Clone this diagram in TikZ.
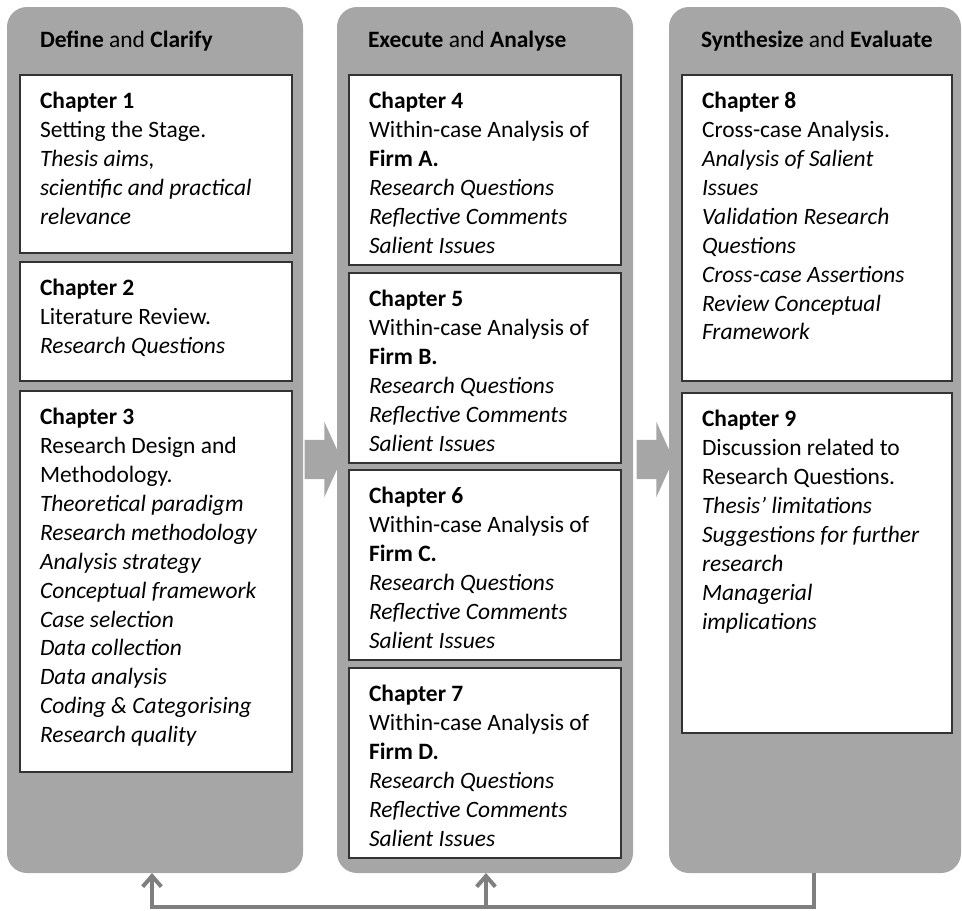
\documentclass[tikz,border=0pt]{standalone}
\usepackage{fontspec}
\setmainfont{Carlito}
\usetikzlibrary{calc,arrows.meta,shapes.arrows}
\definecolor{colgrey}{HTML}{A6A6A6}
\definecolor{fbgrey}{HTML}{7F7F7F}

\begin{document}
\begin{tikzpicture}[x=0.75pt,y=-0.75pt,
  every node/.style={inner sep=0pt,outer sep=0pt},
  txt/.style={font=\fontsize{17.6pt}{21.7pt}\selectfont},
  column/.style={fill=colgrey,rounded corners=15pt,anchor=north west,minimum width=222pt,minimum height=649.5pt},
  box/.style={draw=black!80,line width=1.1pt,fill=white,anchor=north west,minimum width=204pt},
  chap/.style={txt,align=left,anchor=north west},
  flow/.style={single arrow,fill=colgrey,inner ysep=14.6pt,minimum height=27.75pt,
    single arrow head extend=13.5pt,single arrow tip angle=131},
  feedback/.style={draw=fbgrey,line width=3pt}]
  \useasboundingbox (0,0) rectangle (962,910);
  % columns
  \node[column] (c1) at (7,7) {};
  \node[column] (c2) at (337,7) {};
  \node[column,minimum width=219pt] (c3) at (669,7) {};
  \node[flow] (a1) at (318.5,459.5) {};
  \node[flow] (a2) at (650.5,459.5) {};
  \node[txt,anchor=base west] (h1) at (40,47) {\textbf{Define} and \textbf{Clarify}};
  \node[txt,anchor=base west] (h2) at (368,47) {\textbf{Execute} and \textbf{Analyse}};
  \node[txt,anchor=base west] (h3) at (701,47) {\textbf{Synthesize} and \textbf{Evaluate}};
  % define and clarify
  \node[box,minimum height=133.5pt] (b1) at (20,75) {};
  \node[box,minimum height=89.25pt] (b2) at (20,262) {};
  \node[box,minimum height=285.75pt] (b3) at (20,391) {};
  \node[chap] (t1) at ($(b1.north west)+(20,17)$) {\textbf{Chapter 1}\\Setting the Stage.\\\textit{Thesis aims,}\\\textit{scientific and practical}\\\textit{relevance}};
  \node[chap] (t2) at ($(b2.north west)+(20,17)$) {\textbf{Chapter 2}\\Literature Review.\\\textit{Research Questions}};
  \node[chap] (t3) at ($(b3.north west)+(20,17)$) {\textbf{Chapter 3}\\Research Design and\\Methodology.\\\textit{Theoretical paradigm}\\\textit{Research methodology}\\\textit{Analysis strategy}\\\textit{Conceptual framework}\\\textit{Case selection}\\\textit{Data collection}\\\textit{Data analysis}\\\textit{Coding \& Categorising}\\\textit{Research quality}};
  % execute and analyse
  \node[box,minimum height=142.5pt] (b4) at (349,75) {};
  \node[box,minimum height=142.5pt] (b5) at (349,273) {};
  \node[box,minimum height=142.5pt] (b6) at (349,470) {};
  \node[box,minimum height=142.5pt] (b7) at (349,668) {};
  \node[chap] (t4) at ($(b4.north west)+(20,17)$) {\textbf{Chapter 4}\\Within-case Analysis of\\\textbf{Firm A.}\\\textit{Research Questions}\\\textit{Reflective Comments}\\\textit{Salient Issues}};
  \node[chap] (t5) at ($(b5.north west)+(20,17)$) {\textbf{Chapter 5}\\Within-case Analysis of\\\textbf{Firm B.}\\\textit{Research Questions}\\\textit{Reflective Comments}\\\textit{Salient Issues}};
  \node[chap] (t6) at ($(b6.north west)+(20,17)$) {\textbf{Chapter 6}\\Within-case Analysis of\\\textbf{Firm C.}\\\textit{Research Questions}\\\textit{Reflective Comments}\\\textit{Salient Issues}};
  \node[chap] (t7) at ($(b7.north west)+(20,17)$) {\textbf{Chapter 7}\\Within-case Analysis of\\\textbf{Firm D.}\\\textit{Research Questions}\\\textit{Reflective Comments}\\\textit{Salient Issues}};
  % synthesize and evaluate
  \node[box,minimum width=202.5pt,minimum height=229.5pt] (b8) at (682,75) {};
  \node[box,minimum width=202.5pt,minimum height=255pt] (b9) at (682,393) {};
  \node[chap] (t8) at ($(b8.north west)+(20,17)$) {\textbf{Chapter 8}\\Cross-case Analysis.\\\textit{Analysis of Salient}\\\textit{Issues}\\\textit{Validation Research}\\\textit{Questions}\\\textit{Cross-case Assertions}\\\textit{Review Conceptual}\\\textit{Framework}};
  \node[chap] (t9) at ($(b9.north west)+(20,17)$) {\textbf{Chapter 9}\\Discussion related to\\Research Questions.\\\textit{Thesis’ limitations}\\\textit{Suggestions for further}\\\textit{research}\\\textit{Managerial}\\\textit{implications}};
  % feedback loop
  \coordinate (f3) at (814,907);
  \coordinate (f2) at (486,907);
  \coordinate (f1) at (152,907);
  \draw[feedback,-{Straight Barb[length=8pt,width=14pt]}] (c3.south -| f3) -- (f3) -- (f1) -- (c1.south -| f1);
  \draw[feedback,-{Straight Barb[length=8pt,width=14pt]}] (f2) -- (c2.south -| f2);
\end{tikzpicture}
\end{document}
